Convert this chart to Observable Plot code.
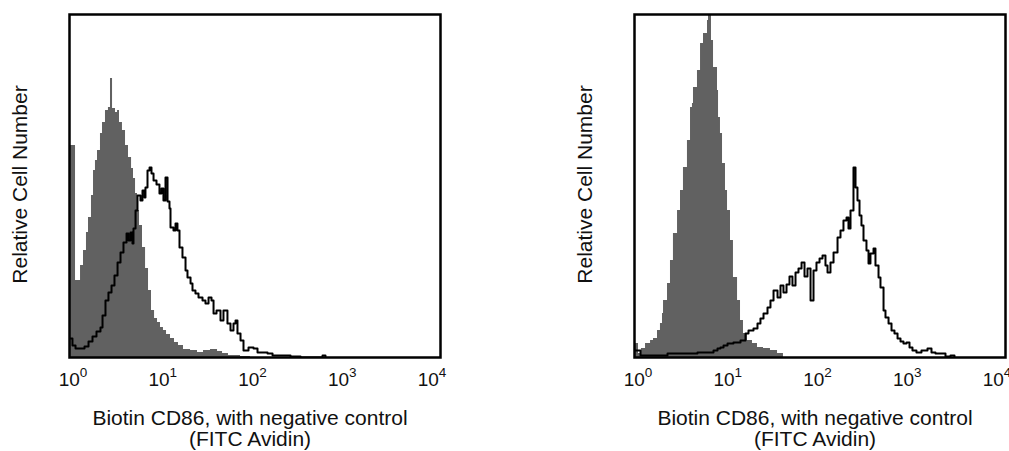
<!DOCTYPE html>
<html>
<head>
<meta charset="utf-8">
<script src="https://cdn.jsdelivr.net/npm/d3@7"></script>
<script src="https://cdn.jsdelivr.net/npm/@observablehq/plot@0.6"></script>
<style>
  html, body { margin: 0; padding: 0; background: #fff; }
  #chart { position: relative; width: 1009px; height: 451px; overflow: hidden; }
  #chart svg { position: absolute; top: 0; }
</style>
</head>
<body>
<div id="chart"></div>
<script>
// Fluorescence intensity expressed as log10 decade, paired with relative cell count
const tickExponents = [0, 1, 2, 3, 4];
const xTitle = ["Biotin CD86, with negative control", "(FITC Avidin)"];
const yTitle = "Relative Cell Number";

// Left panel: negative control (gray filled)
const leftControl = [
  [0.000,212],[0.065,77],[0.086,77],[0.119,92],[0.151,107],[0.183,125],[0.205,140],[0.237,162],
  [0.259,187],[0.280,197],[0.302,207],[0.334,224],[0.356,235],[0.388,247],[0.420,250],[0.442,279],
  [0.464,249],[0.496,245],[0.518,247],[0.539,235],[0.571,227],[0.604,212],[0.636,200],[0.669,189],
  [0.690,179],[0.712,164],[0.733,147],[0.755,132],[0.787,110],[0.820,89],[0.852,67],[0.884,47],
  [0.917,39],[0.949,35],[0.981,30],[1.013,27],[1.046,23],[1.089,19],[1.132,15],[1.175,12],
  [1.229,8],[1.305,7],[1.380,5],[1.445,7],[1.520,8],[1.596,6],[1.650,4],[1.714,2],[1.844,1],[1.951,0]
];
// Left panel: Biotin CD86 (black outline)
const leftSample = [
  [0.000,19],[0.032,12],[0.065,9],[0.119,9],[0.162,11],[0.205,16],[0.248,21],[0.291,26],[0.334,30],
  [0.356,42],[0.388,57],[0.420,65],[0.453,72],[0.485,82],[0.518,95],[0.550,105],[0.582,115],
  [0.615,124],[0.636,117],[0.658,125],[0.679,114],[0.690,129],[0.712,147],[0.733,162],[0.765,157],
  [0.787,167],[0.809,160],[0.819,170],[0.841,187],[0.863,190],[0.884,184],[0.906,177],[0.938,173],
  [0.970,164],[0.992,169],[1.013,157],[1.035,180],[1.057,156],[1.078,149],[1.089,130],[1.121,127],
  [1.143,134],[1.164,127],[1.186,110],[1.218,100],[1.251,87],[1.272,80],[1.305,74],[1.326,67],
  [1.358,64],[1.391,60],[1.434,57],[1.466,54],[1.499,60],[1.531,57],[1.553,44],[1.585,47],
  [1.628,37],[1.660,47],[1.703,34],[1.736,27],[1.768,34],[1.790,37],[1.811,24],[1.844,17],
  [1.876,7],[1.930,10],[1.984,9],[2.027,5],[2.135,4],[2.189,2],[2.383,1],[2.491,0],[2.728,2],[2.760,0]
];
// Right panel: negative control (gray filled)
const rightControl = [
  [0.000,14],[0.043,4],[0.075,9],[0.119,14],[0.173,17],[0.205,19],[0.248,27],[0.280,34],[0.302,44],
  [0.313,57],[0.356,74],[0.388,97],[0.420,124],[0.464,147],[0.496,167],[0.528,190],[0.571,217],
  [0.604,250],[0.625,254],[0.636,270],[0.679,287],[0.712,314],[0.744,324],[0.787,337],[0.798,343],
  [0.830,317],[0.852,290],[0.895,267],[0.906,240],[0.927,224],[0.949,194],[0.981,167],[1.003,147],
  [1.035,117],[1.067,80],[1.111,57],[1.143,37],[1.175,24],[1.218,17],[1.272,14],[1.326,10],
  [1.391,9],[1.466,7],[1.542,4],[1.606,0]
];
// Right panel: Biotin CD86 (black outline)
const rightSample = [
  [0.000,7],[0.065,2],[0.356,4],[0.679,5],[0.852,7],[0.895,9],[0.927,10],[0.960,12],[1.003,14],
  [1.067,15],[1.143,17],[1.197,24],[1.229,27],[1.283,29],[1.326,34],[1.358,39],[1.391,44],[1.434,50],
  [1.466,57],[1.499,67],[1.542,60],[1.574,72],[1.606,65],[1.639,73],[1.671,81],[1.703,72],[1.736,85],
  [1.768,89],[1.801,95],[1.833,81],[1.865,89],[1.898,57],[1.930,87],[1.962,95],[1.995,99],[2.027,102],
  [2.059,92],[2.081,85],[2.113,95],[2.146,105],[2.189,120],[2.221,127],[2.253,137],[2.286,140],
  [2.307,129],[2.329,147],[2.361,190],[2.383,170],[2.404,157],[2.426,142],[2.447,132],[2.469,117],
  [2.501,107],[2.523,94],[2.544,104],[2.577,109],[2.598,92],[2.631,80],[2.652,70],[2.685,47],
  [2.706,40],[2.739,34],[2.771,27],[2.803,24],[2.836,19],[2.868,16],[2.900,14],[2.933,15],[2.965,10],
  [2.997,7],[3.040,5],[3.094,7],[3.159,9],[3.202,5],[3.245,4],[3.353,1],[3.407,2],[3.450,0]
];

const FONT = "'Liberation Sans', Arial, Helvetica, sans-serif";

function panel(control, sample, width, marginLeft, marginRight) {
  // tick labels sit slightly compressed toward the centre in the original artwork
  const tickLabelMarks = tickExponents.map((k, i) =>
    Plot.text([k], {x: d => 10 ** d, text: d => "10^" + d, frameAnchor: "bottom",
      lineAnchor: "bottom", dy: 28, dx: 3.5 - 3 * i, fontSize: 19, fill: "#111"}));
  const svg = Plot.plot({
    width, height: 451,
    marginTop: 14, marginBottom: 94, marginLeft, marginRight,
    style: {fontFamily: FONT, fontSize: "18px", color: "#111", background: "transparent", overflow: "visible"},
    x: {type: "log", domain: [1, 1e4], axis: null},
    y: {domain: [0, 343], axis: null},
    marks: [
      Plot.areaY(control, {x: d => 10 ** d[0], y: d => d[1], curve: "step-after", fill: "#616161", clip: true}),
      Plot.lineY(sample, {x: d => 10 ** d[0], y: d => d[1], curve: "step-after", stroke: "#000", strokeWidth: 2, clip: true}),
      Plot.frame({stroke: "#000", strokeWidth: 2.5}),
      ...tickLabelMarks,
      Plot.text([xTitle.join("\n")], {frameAnchor: "bottom", lineAnchor: "bottom", dy: 88.5, dx: -5,
        fontSize: 21, lineHeight: 1.0, fill: "#111"}),
      Plot.text([yTitle], {frameAnchor: "left", rotate: -90, dx: -49.5, dy: -1.5, textAnchor: "middle",
        lineAnchor: "middle", fontSize: 21, fill: "#111"})
    ]
  });
  svg.querySelectorAll("text").forEach(t => {
    const m = /^10\^(\d)$/.exec(t.textContent);
    if (!m) return;
    t.textContent = "10";
    const ts = document.createElementNS("http://www.w3.org/2000/svg", "tspan");
    ts.setAttribute("dy", "-9");
    ts.setAttribute("font-size", "13.5");
    ts.textContent = m[1];
    t.appendChild(ts);
  });
  return svg;
}

const chart = document.getElementById("chart");
const left = panel(leftControl, leftSample, 505, 69, 65);
left.style.left = "0px";
const right = panel(rightControl, rightSample, 504, 129, 4);
right.style.left = "505px";
chart.appendChild(left);
chart.appendChild(right);
</script>
</body>
</html>
